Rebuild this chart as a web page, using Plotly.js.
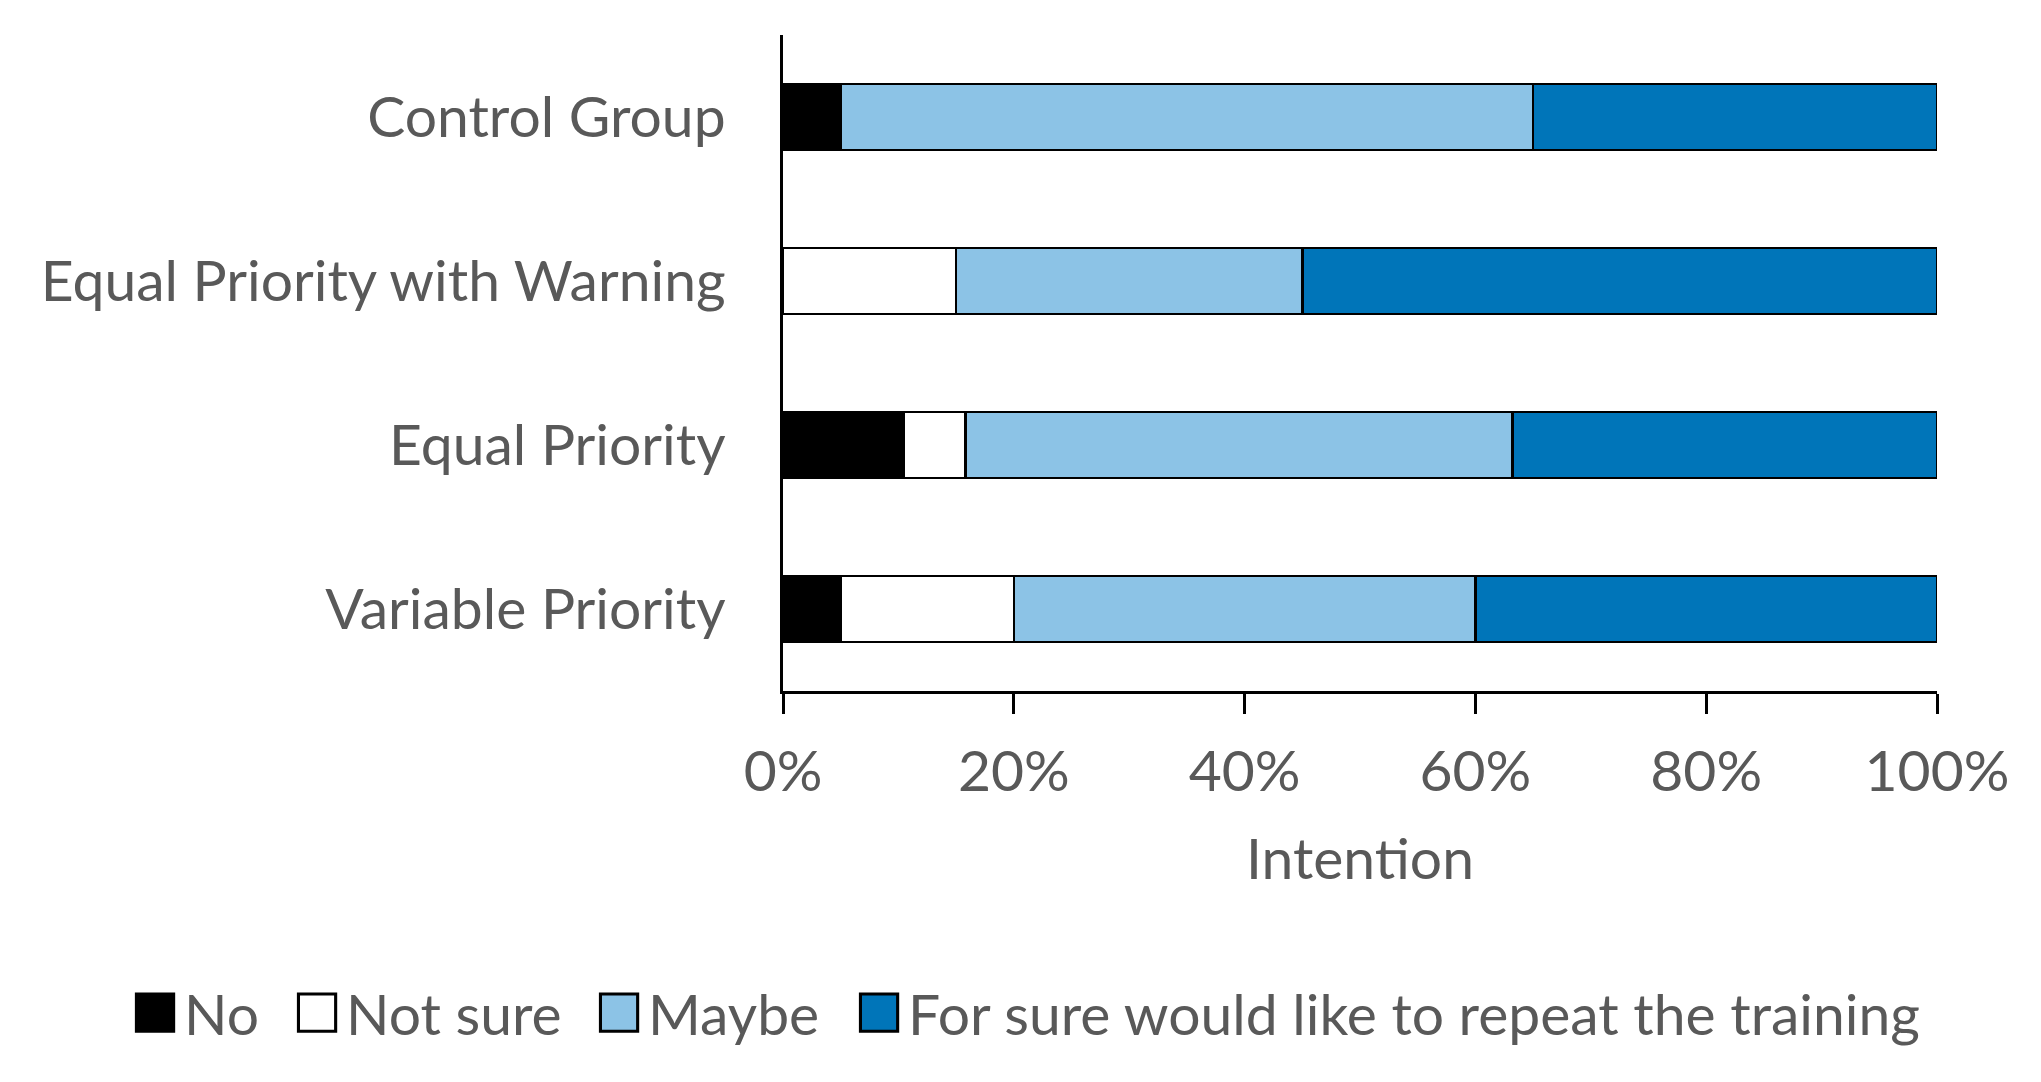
<!DOCTYPE html>
<html>
<head>
<meta charset="utf-8">
<script src="https://cdn.plot.ly/plotly-3.0.1.min.js"></script>
<style>
  html, body { margin: 0; padding: 0; background: #ffffff; }
  #chart { width: 2041px; height: 1082px; }
</style>
</head>
<body>
<div id="chart"></div>
<script>
// ---- data ----
const groups = ["Control Group", "Equal Priority with Warning", "Equal Priority", "Variable Priority"];
const seriesNames = ["No", "Not sure", "Maybe", "For sure would like to repeat the training"];
const noVals      = [5, 0, 10.5, 5];
const notSureVals = [0, 15, 5.3, 15];
const maybeVals   = [60, 30, 47.4, 40];
const forSureVals = [35, 55, 36.8, 40];
const xTickVals   = [0, 20, 40, 60, 80, 100];
const xTickText   = ["0%", "20%", "40%", "60%", "80%", "100%"];

// ---- style ----
const colors = ["#000000", "#FFFFFF", "#8CC3E6", "#0075B9"];
const FONT = "Lato, 'Open Sans', sans-serif";
const TXT = "#595959";
const FS = 57;
const legendIds = ["legend", "legend2", "legend3", "legend4"];
const legendX = [-0.5693, -0.4289, -0.1672, 0.0581]; // horizontal placement of each key

const allVals = [noVals, notSureVals, maybeVals, forSureVals];
const traces = allVals.map((vals, i) => ({
  type: "bar",
  orientation: "h",
  name: seriesNames[i],
  legend: legendIds[i],
  y: groups,
  x: vals,
  marker: { color: colors[i], line: { color: "#000000", width: 2.5 } },
  hoverinfo: "x+y+name"
}));

const layout = {
  width: 2041,
  height: 1082,
  paper_bgcolor: "#ffffff",
  plot_bgcolor: "#ffffff",
  barmode: "stack",
  bargap: 0.6,
  margin: { l: 783, r: 104, t: 35, b: 391 },
  font: { family: FONT, size: FS, color: TXT },
  showlegend: true,
  xaxis: {
    range: [0, 100],
    tickvals: xTickVals,
    ticktext: xTickText,
    ticks: "outside",
    ticklen: 20,
    tickwidth: 3,
    tickcolor: "#000000",
    ticklabelstandoff: 9,
    showline: true,
    linecolor: "#000000",
    linewidth: 3,
    showgrid: false,
    zeroline: false,
    fixedrange: true,
    tickfont: { family: FONT, size: FS, color: TXT },
    title: { text: "Intention", font: { family: FONT, size: FS, color: TXT }, standoff: 37 },
    automargin: true
  },
  yaxis: {
    autorange: "reversed",
    showline: true,
    linecolor: "#000000",
    linewidth: 3,
    ticks: "",
    showgrid: false,
    zeroline: false,
    ticklabelstandoff: 43,
    tickfont: { family: FONT, size: FS, color: TXT },
    automargin: false
  }
};
legendIds.forEach((id, i) => {
  layout[id] = {
    orientation: "h",
    x: legendX[i], xanchor: "left",
    y: -0.491, yanchor: "middle",
    itemwidth: 48,
    bgcolor: "rgba(0,0,0,0)",
    font: { family: FONT, size: FS, color: TXT }
  };
});

Plotly.newPlot("chart", traces, layout, { displayModeBar: false, staticPlot: true }).then(() => {
  // enlarge legend swatches to match the reference's large square keys
  document.querySelectorAll("#chart .legendpoints path").forEach(p => {
    const t = p.getAttribute("transform") || "";
    p.setAttribute("transform", t + " scale(3.1)");
    p.style.strokeWidth = "1px";
  });
});
</script>
</body>
</html>
